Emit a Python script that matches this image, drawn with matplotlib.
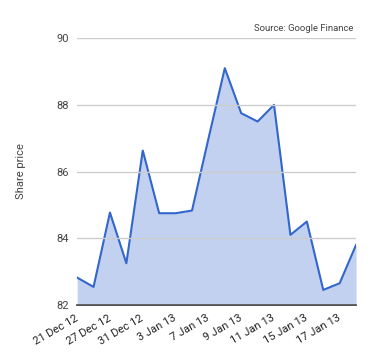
import numpy as np
import matplotlib.pyplot as plt

plt.rcParams['font.family'] = ['Roboto', 'DejaVu Sans']

dates = ["21 Dec 12", "24 Dec 12", "27 Dec 12", "28 Dec 12", "31 Dec 12",
         "2 Jan 13", "3 Jan 13", "4 Jan 13", "7 Jan 13", "8 Jan 13",
         "9 Jan 13", "10 Jan 13", "11 Jan 13", "14 Jan 13", "15 Jan 13",
         "16 Jan 13", "17 Jan 13", "18 Jan 13"]
prices = [82.82, 82.54, 84.77, 83.25, 86.63, 84.75, 84.75, 84.83, 86.98,
          89.10, 87.75, 87.50, 88.00, 84.10, 84.50, 82.45, 82.65, 83.80]
y_ticks = [82, 84, 86, 88, 90]

x = np.arange(len(dates))

fig = plt.figure(figsize=(3.8, 3.6), dpi=100)
ax = fig.add_axes([0.203, 0.153, 0.734, 0.741])

ax.fill_between(x, prices, 82, color="#c2d1ef", linewidth=0)
ax.plot(x, prices, color="#3366cc", linewidth=1.5)

ax.set_xlim(0, len(dates) - 1)
ax.set_ylim(82, 90)
ax.set_yticks(y_ticks)
ax.set_yticklabels([str(v) for v in y_ticks], color="#444444", fontsize=8)
ax.set_xticks(x[::2])
ax.set_xticklabels(dates[::2], rotation=30, ha="right", va="center",
                   rotation_mode="anchor", color="#222222", fontsize=8)
ax.tick_params(axis="both", length=0, pad=6)
ax.tick_params(axis="x", pad=9)

ax.grid(axis="y", color="#cccccc", linewidth=1)
ax.set_axisbelow(False)
for s in ["top", "right", "left"]:
    ax.spines[s].set_visible(False)
ax.spines["bottom"].set_color("#333333")
ax.spines["bottom"].set_linewidth(1.2)

ax.set_ylabel("Share price", color="#444444", fontsize=8, labelpad=22)
fig.text(0.93, 0.921, "Source: Google Finance", ha="right", va="center",
         fontsize=6.8, color="#444444")

fig.savefig("out.png", dpi=100)
